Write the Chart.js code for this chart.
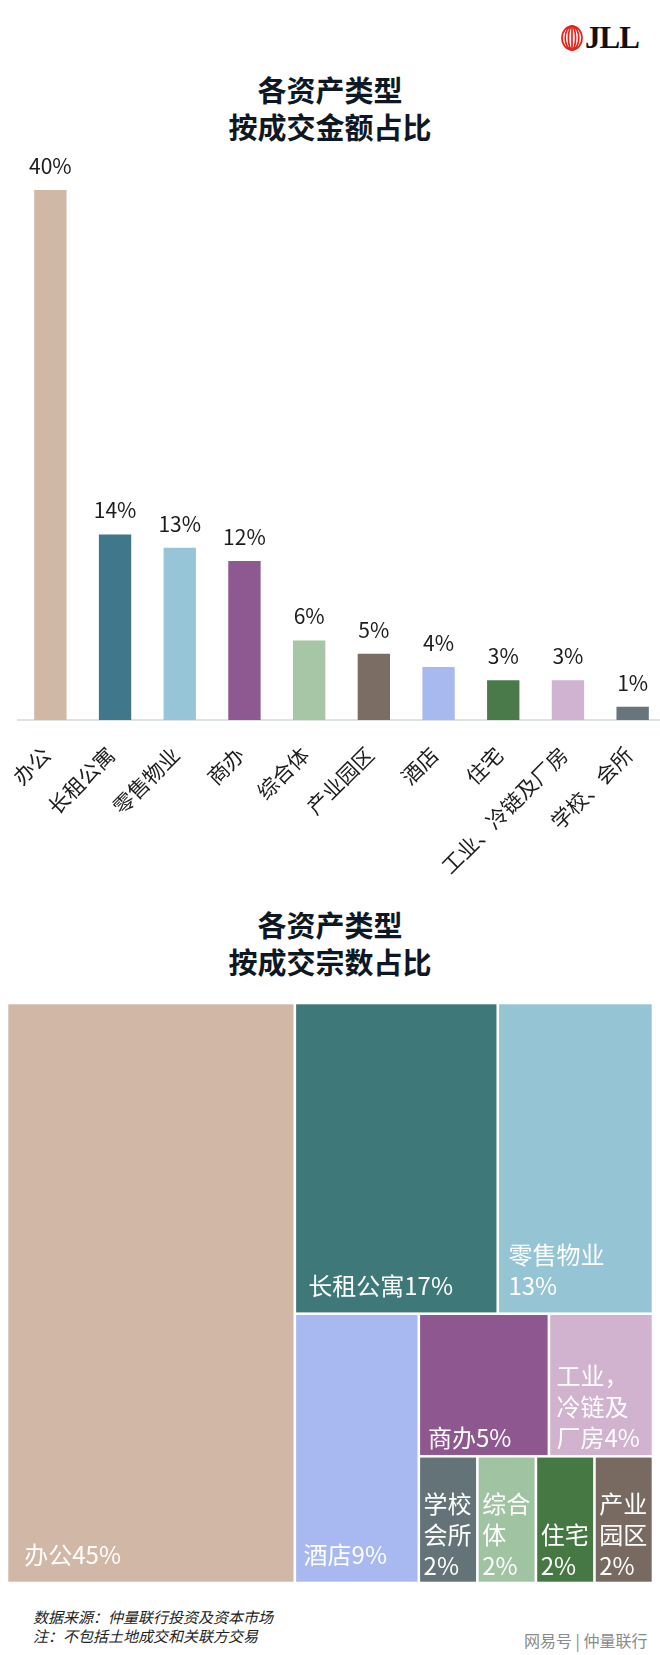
<!DOCTYPE html>
<html lang="zh-CN">
<head>
<meta charset="utf-8">
<title>各资产类型 按成交金额占比 / 按成交宗数占比</title>
<script src="https://cdn.jsdelivr.net/npm/chart.js@4.4.0/dist/chart.umd.min.js"></script>
<style>
  html, body { margin: 0; padding: 0; background: #fff; }
  body { width: 660px; height: 1655px; position: relative; overflow: hidden; font-family: 'Noto Sans CJK SC', sans-serif; }
  .title { position: absolute; left: 0; width: 660px; text-align: center; font-weight: 700; font-size: 29px; line-height: 37px; color: #0e1824; }
  #logo { position: absolute; left: 561px; top: 25px; height: 26px; display: flex; align-items: center; }
  #logo span { font-family: 'Liberation Serif', serif; font-weight: 700; font-size: 31px; margin-left: 2px; letter-spacing: -1px; color: #111; }
  .wrap { position: absolute; left: 0; }
  .note { position: absolute; left: 33px; top: 1607px; font-size: 15px; line-height: 19px; font-style: italic; color: #222; }
  .mark { position: absolute; left: 524px; top: 1628px; font-size: 16px; color: #8a8a8a; }
</style>
</head>
<body>
<div id="logo">
  <svg width="22" height="26" viewBox="0 0 22 26">
    <g fill="none" stroke="#e1261c" stroke-width="1.7">
      <ellipse cx="11" cy="13" rx="10" ry="11.8"/>
      <ellipse cx="11" cy="13" rx="6.8" ry="11.8"/>
      <ellipse cx="11" cy="13" rx="3.6" ry="11.8"/>
      <line x1="11" y1="1.2" x2="11" y2="24.8"/>
    </g>
  </svg>
  <span>JLL</span>
</div>

<div class="title" style="top:71px">各资产类型<br>按成交金额占比</div>
<div class="wrap" style="top:140px"><canvas id="barChart" width="668" height="760"></canvas></div>

<div class="title" style="top:906px">各资产类型<br>按成交宗数占比</div>
<div class="wrap" style="top:990px"><canvas id="treeChart" width="660" height="600"></canvas></div>

<div class="note">数据来源：仲量联行投资及资本市场<br>注：不包括土地成交和关联方交易</div>
<div class="mark">网易号 | 仲量联行</div>

<script>
// 按成交金额占比
const barCategories = ['办公', '长租公寓', '零售物业', '商办', '综合体', '产业园区', '酒店', '住宅', '工业、冷链及厂房', '学校、会所'];
const barValues = [40, 14, 13, 12, 6, 5, 4, 3, 3, 1];
const barColors = ['#d0b8a6', '#41778b', '#95c5d6', '#8e5891', '#a6c6a6', '#7b6d63', '#a8b9f0', '#4a7a4a', '#d0b3d0', '#68757d'];

// 按成交宗数占比
const tmLabels = ['办公', '长租公寓', '零售物业', '酒店', '商办', '工业，冷链及厂房', '学校会所', '综合体', '住宅', '产业园区'];
const tmValues = [45, 17, 13, 9, 5, 4, 2, 2, 2, 2];
const tmColors = ['#d0b7a6', '#3f7879', '#95c5d5', '#a8b8f1', '#8e5790', '#d1b2cf', '#647378', '#a0c3a2', '#467843', '#786a61'];
// which cells share a strip, in order
const tmStrips = [[0], [1, 2], [3], [4, 5], [6, 7, 8, 9]];

Chart.defaults.font.family = "'Noto Sans CJK SC', sans-serif";

const valueLabels = {
    id: 'valueLabels',
    afterDatasetsDraw(chart) {
        const ctx = chart.ctx;
        const meta = chart.getDatasetMeta(0);
        ctx.save();
        ctx.font = "21px 'Noto Sans CJK SC'";
        ctx.fillStyle = '#1c1c1c';
        ctx.textAlign = 'center';
        ctx.textBaseline = 'middle';
        meta.data.forEach((bar, i) => {
            ctx.fillText(barValues[i] + '%', bar.x, bar.y - 24);
        });
        ctx.restore();
    }
};

new Chart(document.getElementById('barChart'), {
    type: 'bar',
    data: {
        labels: barCategories,
        datasets: [{
            data: barValues,
            backgroundColor: barColors,
            barPercentage: 0.5,
            categoryPercentage: 1.0
        }]
    },
    options: {
        responsive: false,
        animation: false,
        layout: { padding: { left: 18, right: 3, top: 50, bottom: 0 } },
        plugins: { legend: { display: false }, tooltip: { enabled: false } },
        scales: {
            x: {
                grid: { display: false, drawTicks: false },
                border: { display: true, color: '#dde2e4', width: 2 },
                ticks: { color: '#1c1c1c', font: { size: 21 }, minRotation: 45, maxRotation: 45, padding: 22, labelOffset: -4, autoSkip: false },
                afterFit: (scale) => {
                    scale.height = 180;
                    scale.paddingLeft = 0;
                    scale.paddingRight = 0;
                }
            },
            y: { display: false, min: 0, max: 40 }
        }
    },
    plugins: [valueLabels]
});

// strip layout in pixel units, strips run along the region's shorter side
function layoutTreemap(values, strips, width, height) {
    let x = 0, y = 0, w = width, h = height;
    let remaining = values.reduce((a, b) => a + b, 0);
    const rects = [];
    strips.forEach(strip => {
        const sum = strip.reduce((a, i) => a + values[i], 0);
        let sx = x, sy = y, sw, sh;
        if (w >= h) {
            sw = w * sum / remaining; sh = h;
            x += sw; w -= sw;
        } else {
            sw = w; sh = h * sum / remaining;
            y += sh; h -= sh;
        }
        let off = 0;
        strip.forEach(i => {
            const f = values[i] / sum;
            if (sw >= sh) rects[i] = { x: sx + off * sw, y: sy, w: sw * f, h: sh };
            else rects[i] = { x: sx, y: sy + off * sh, w: sw, h: sh * f };
            off += f;
        });
        remaining -= sum;
    });
    return rects;
}

function wrapLabel(ctx, text, maxWidth) {
    const tokens = text.match(/[0-9.%]+|./g);
    const lines = [];
    let line = '';
    tokens.forEach(t => {
        if (line && ctx.measureText(line + t).width > maxWidth) { lines.push(line); line = t; }
        else line += t;
    });
    if (line) lines.push(line);
    return lines;
}

const treemapCells = {
    id: 'treemapCells',
    afterDatasetsDraw(chart) {
        const { ctx, chartArea, scales } = chart;
        const W = chartArea.right - chartArea.left;
        const H = chartArea.bottom - chartArea.top;
        const rects = layoutTreemap(tmValues, tmStrips, W, H);
        const gap = 1.3;
        ctx.save();
        ctx.font = "24px 'Noto Sans CJK SC'";
        rects.forEach((r, i) => {
            const x0 = scales.x.getPixelForValue(r.x / W);
            const x1 = scales.x.getPixelForValue((r.x + r.w) / W);
            const y0 = scales.y.getPixelForValue(r.y / H);
            const y1 = scales.y.getPixelForValue((r.y + r.h) / H);
            ctx.fillStyle = tmColors[i];
            ctx.fillRect(x0 + gap, y0 + gap, x1 - x0 - 2 * gap, y1 - y0 - 2 * gap);

            const cw = x1 - x0, ch = y1 - y0;
            const lpad = Math.max(3, Math.min(16, Math.min(cw, ch) * 0.06));
            const bpad = Math.min(28, 8 + ch * 0.075);
            const lines = wrapLabel(ctx, tmLabels[i] + tmValues[i] + '%', cw - lpad - 3);
            ctx.fillStyle = '#ffffff';
            ctx.textAlign = 'left';
            ctx.textBaseline = 'middle';
            lines.forEach((ln, k) => {
                ctx.fillText(ln, x0 + gap + lpad, y1 - bpad - (lines.length - 1 - k) * 31);
            });
        });
        ctx.restore();
    }
};

new Chart(document.getElementById('treeChart'), {
    type: 'scatter',
    data: { datasets: [{ data: [] }] },
    options: {
        responsive: false,
        animation: false,
        layout: { padding: { left: 7, right: 7, top: 13, bottom: 7 } },
        plugins: { legend: { display: false }, tooltip: { enabled: false } },
        scales: {
            x: { display: false, min: 0, max: 1 },
            y: { display: false, min: 0, max: 1, reverse: true }
        }
    },
    plugins: [treemapCells]
});
</script>
</body>
</html>
